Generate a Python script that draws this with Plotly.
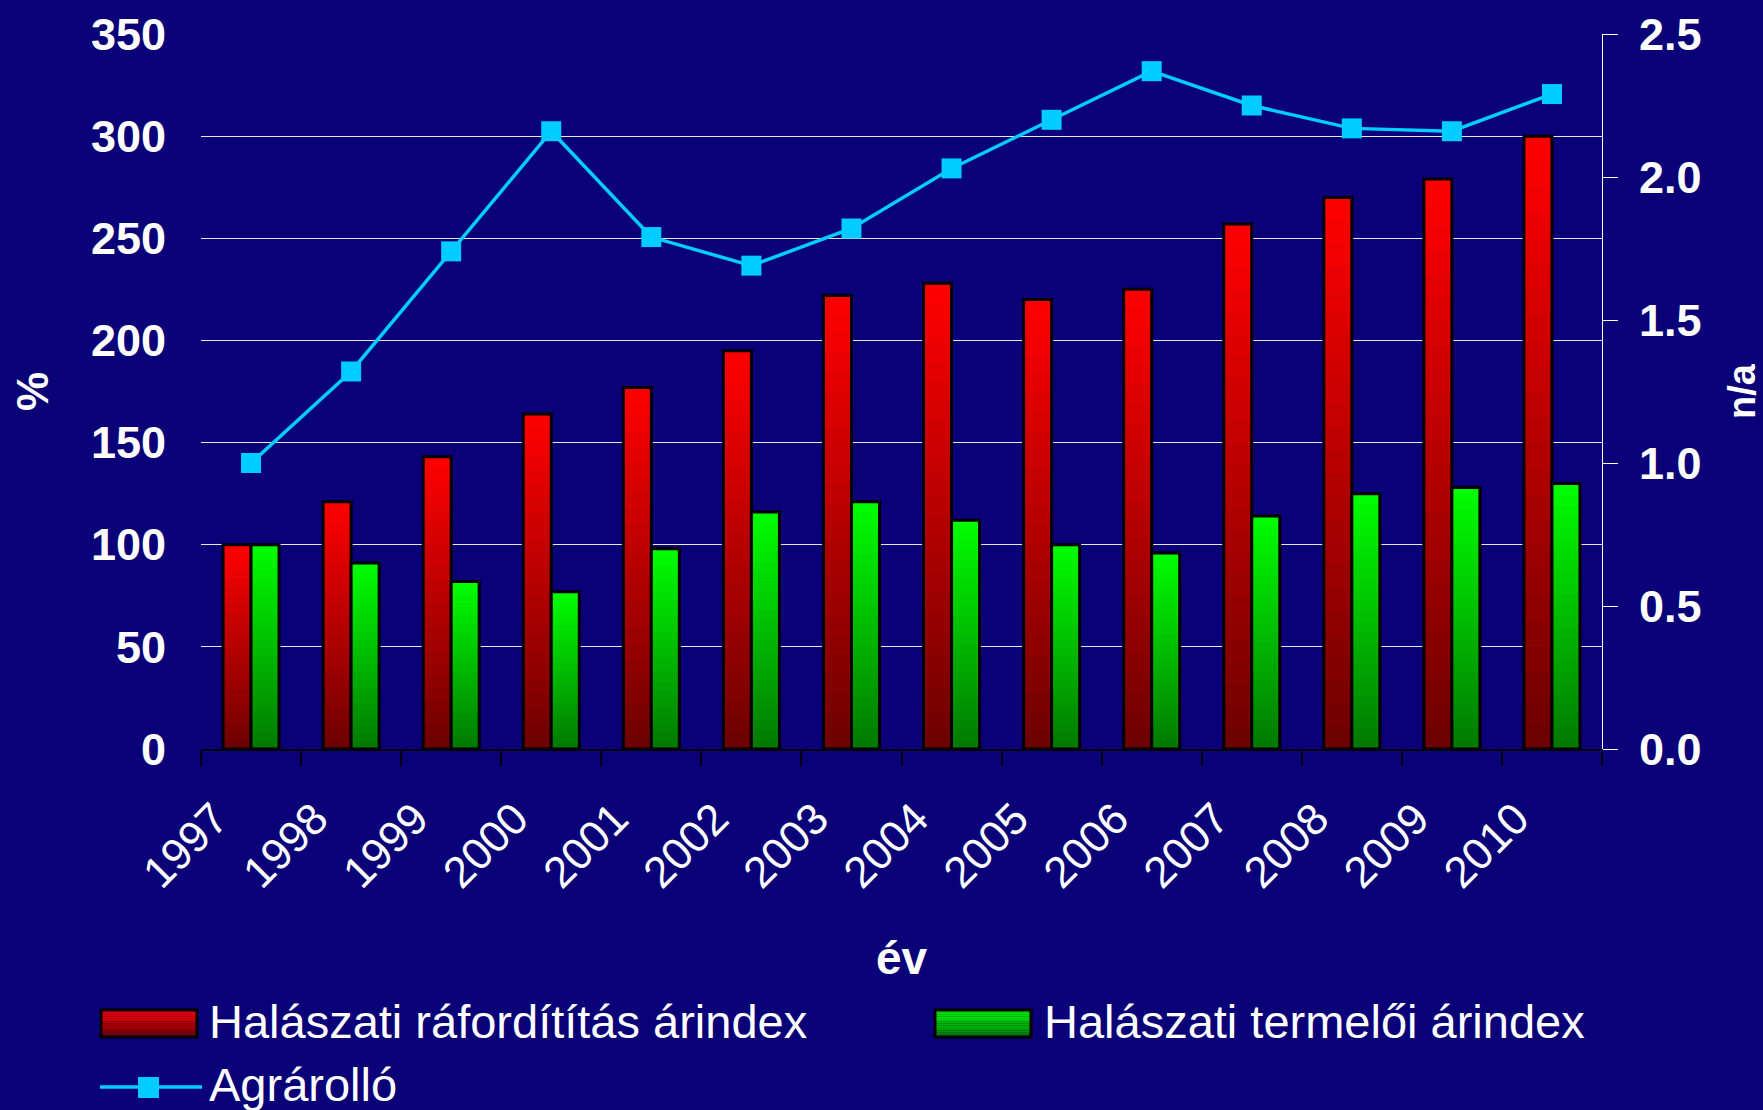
import plotly.graph_objects as go

# ---------------- data ----------------
years = [str(y) for y in range(1997, 2011)]
raforditas = [100, 121, 143, 164, 177, 195, 222, 228, 220, 225, 257, 270, 279, 300]
termeloi = [100, 91, 82, 77, 98, 116, 121, 112, 100, 96, 114, 125, 128, 130]
agrarollo = [1.00, 1.32, 1.74, 2.16, 1.79, 1.69, 1.82, 2.03, 2.20, 2.37, 2.25, 2.17, 2.16, 2.29]

name_red = "Halászati ráfordítítás árindex"
name_green = "Halászati termelői árindex"
name_line = "Agrárolló"

# ---------------- style ----------------
BG = "#0A0077"
FONT = "Arial, Liberation Sans, sans-serif"
RED_TOP, RED_BOT = (255, 0, 0), (108, 0, 0)
GRN_TOP, GRN_BOT = (0, 255, 0), (0, 120, 0)
LINE_COL = "#00CCFF"
NSEG = 24

W, H = 1763, 1110
L, R, T, B = 201, 161, 34, 361
PW, PH = W - L - R, H - T - B


def mix(bot, top, t):
    return "rgb(%d,%d,%d)" % tuple(round(b + (a - b) * t) for a, b in zip(top, bot))


fig = go.Figure()

# gradient bars built from stacked slices of each bar, outline drawn on top
for vals, top, bot, grp, nm in [
    (raforditas, RED_TOP, RED_BOT, "r", name_red),
    (termeloi, GRN_TOP, GRN_BOT, "g", name_green),
]:
    for k in range(NSEG):
        col = mix(bot, top, (k + 0.5) / NSEG)
        fig.add_trace(go.Bar(
            x=years, y=[v / NSEG for v in vals], base=[v * k / NSEG for v in vals],
            offsetgroup=grp, marker=dict(color=col, line=dict(color=col, width=1)),
            showlegend=False, hoverinfo="skip",
        ))
    fig.add_trace(go.Bar(
        x=years, y=vals, name=nm, offsetgroup=grp,
        marker=dict(color="rgba(0,0,0,0)", line=dict(color="black", width=3)),
        showlegend=False,
    ))

fig.add_trace(go.Scatter(
    x=years, y=agrarollo, name=name_line, yaxis="y2", mode="lines+markers",
    line=dict(color=LINE_COL, width=3.5),
    marker=dict(symbol="square", size=20, color=LINE_COL),
    showlegend=False,
))

# ---------------- manual legend ----------------
def pxx(x):
    return (x - L) / PW


def pxy(y):
    return (T + PH - y) / PH


shapes = []
annotations = []


def grad_swatch(x0, x1, y0, y1, top, bot):
    n = 12
    for i in range(n):
        ya = y0 + (y1 - y0) * i / n
        yb = y0 + (y1 - y0) * (i + 1) / n
        col = mix(bot, top, 1 - (i + 0.5) / n)
        shapes.append(dict(type="rect", xref="paper", yref="paper",
                           x0=pxx(x0), x1=pxx(x1), y0=pxy(ya), y1=pxy(yb),
                           fillcolor=col, line=dict(width=0), layer="above"))
    shapes.append(dict(type="rect", xref="paper", yref="paper",
                       x0=pxx(x0), x1=pxx(x1), y0=pxy(y0), y1=pxy(y1),
                       fillcolor="rgba(0,0,0,0)", line=dict(color="black", width=3),
                       layer="above"))


def legend_text(x, y, text):
    annotations.append(dict(xref="paper", yref="paper", x=pxx(x), y=pxy(y),
                            xanchor="left", yanchor="middle", text=text,
                            showarrow=False,
                            font=dict(family=FONT, size=47, color="white")))


grad_swatch(101, 197, 1010, 1037, RED_TOP, RED_BOT)
legend_text(207, 1021, name_red)
grad_swatch(935, 1031, 1010, 1037, GRN_TOP, GRN_BOT)
legend_text(1042, 1021, name_green)

shapes.append(dict(type="line", xref="paper", yref="paper",
                   x0=pxx(100), x1=pxx(202), y0=pxy(1087), y1=pxy(1087),
                   line=dict(color=LINE_COL, width=3.5), layer="above"))
shapes.append(dict(type="rect", xref="paper", yref="paper",
                   x0=pxx(138), x1=pxx(159), y0=pxy(1077), y1=pxy(1098),
                   fillcolor=LINE_COL, line=dict(width=0), layer="above"))
legend_text(207, 1084, name_line)

fig.update_layout(
    width=W, height=H,
    margin=dict(l=L, r=R, t=T, b=B, autoexpand=False),
    paper_bgcolor=BG, plot_bgcolor=BG,
    barmode="group", bargap=0.44, bargroupgap=0,
    showlegend=False,
    shapes=shapes, annotations=annotations,
    font=dict(family=FONT, color="white"),
    xaxis=dict(
        type="category", range=[-0.5, len(years) - 0.5],
        tickson="boundaries", ticks="outside", ticklen=15,
        tickcolor="black", tickwidth=1.5, showline=True, linecolor="black",
        linewidth=2, showgrid=False, tickangle=-45, ticklabelshift=-36,
        ticklabelstandoff=24,
        tickfont=dict(family=FONT, size=44, color="white"),
        title=dict(text="év", standoff=46,
                   font=dict(family=FONT, size=46, color="white", weight="bold")),
    ),
    yaxis=dict(
        range=[0, 350], dtick=50, showgrid=True, gridcolor="rgba(255,255,255,0.9)",
        gridwidth=1, zeroline=False, showline=False, ticks="",
        ticklabelstandoff=34,
        tickfont=dict(family=FONT, size=45, color="white", weight="bold"),
        title=dict(text="%", standoff=28,
                   font=dict(family=FONT, size=44, color="white", weight="bold")),
    ),
    yaxis2=dict(
        overlaying="y", side="right", range=[0, 2.5], dtick=0.5, tickformat=".1f",
        showgrid=False, zeroline=False, showline=True, linecolor="white",
        linewidth=1, ticks="outside", ticklen=15, tickcolor="white",
        ticklabelstandoff=12,
        tickfont=dict(family=FONT, size=45, color="white", weight="bold"),
        title=dict(text="n/a", standoff=31,
                   font=dict(family=FONT, size=38, color="white", weight="bold")),
    ),
)

fig.write_html("out.html", config={"displayModeBar": False},
               post_script="document.body.style.margin='0';")
